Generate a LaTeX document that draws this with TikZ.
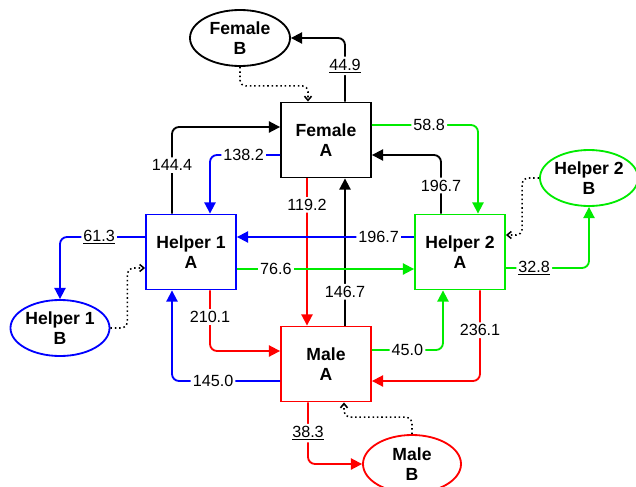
\documentclass[tikz,border=0pt]{standalone}
\usepackage{fontspec}
\setmainfont{Liberation Sans}
\usetikzlibrary{arrows.meta,calc,shapes.geometric}
\definecolor{hgreen}{RGB}{0,235,0}
\definecolor{hblue}{RGB}{0,0,255}
\definecolor{hred}{RGB}{255,0,0}
\tikzset{
  box/.style={draw, line width=1.3pt, minimum width=2.25cm, minimum height=1.875cm,
    align=center, font=\fontsize{12.5}{14.5}\selectfont\bfseries},
  oval/.style={draw, ellipse, line width=1.3pt, minimum width=2.5cm, minimum height=1.4cm,
    inner sep=0pt, align=center, font=\fontsize{12.5}{14.5}\selectfont\bfseries},
  flow/.style={line width=1.3pt, rounded corners=5pt, -{Triangle[length=8pt,width=8pt]}},
  back/.style={dotted, line width=1.1pt, rounded corners=4pt, -{Straight Barb[length=3pt,width=5pt]}},
  lab/.style={fill=white, inner sep=1.5pt, text=black, font=\fontsize{11.5}{13}\selectfont}
}
\begin{document}
\begin{tikzpicture}[x=0.025cm, y=-0.025cm]
  \useasboundingbox (0,0) rectangle (636,486);
  % A boxes
  \node[box] (FA) at (326,140) {Female\\A};
  \node[box, hblue] (H1) at (191,252) {\textcolor{black}{Helper 1}\\\textcolor{black}{A}};
  \node[box, hgreen] (H2) at (460,252) {\textcolor{black}{Helper 2}\\\textcolor{black}{A}};
  \node[box, hred] (MA) at (326,364) {\textcolor{black}{Male}\\\textcolor{black}{A}};
  % B ovals
  \node[oval] (FB) at (240,38) {Female\\B};
  \node[oval, hblue, minimum width=2.475cm] (H1B) at (60,328) {\textcolor{black}{Helper 1}\\\textcolor{black}{B}};
  \node[oval, hgreen, minimum width=2.4cm] (H2B) at (589,178) {\textcolor{black}{Helper 2}\\\textcolor{black}{B}};
  \node[oval, hred, minimum width=2.45cm, minimum height=1.45cm] (MB) at (412,464) {\textcolor{black}{Male}\\\textcolor{black}{B}};
  % to the B ovals
  \draw[flow, black] ($(FA.north)+(19,0)$) |- node[lab, pos=0.28] {\underline{44.9}} (FB.east);
  \draw[flow, hblue] ($(H1.west)+(0,-15)$) -| node[lab, pos=0.27] {\underline{61.3}} (H1B.north);
  \draw[flow, hgreen] ($(H2.east)+(0,16)$) -| node[lab, pos=0.17] {\underline{32.8}} (H2B.south);
  \draw[flow, hred] ($(MA.south)+(-18,0)$) |- node[lab, pos=0.25] {\underline{38.3}} (MB.west);
  % back from the B ovals (dotted)
  \draw[back] (FB.south) -- ++(0,19) -| ($(FA.north)+(-18,0)$);
  \draw[back] (H1B.east) -- ++(17,0) |- ($(H1.west)+(0,16)$);
  \draw[back] (H2B.west) -- ++(-17,0) |- ($(H2.east)+(0,-17)$);
  \draw[back] (MB.north) -- ++(0,-17) -| ($(MA.south)+(18,0)$);
  % Female A
  \draw[flow, black] ($(H1.north)+(-19,0)$) |- node[lab, pos=0.28] {144.4} ($(FA.west)+(0,-13)$);
  \draw[flow, hblue] ($(FA.west)+(0,15)$) -| node[lab, pos=0.26] {138.2} ($(H1.north)+(19,0)$);
  \draw[flow, hgreen] ($(FA.east)+(0,-15)$) -| node[lab, pos=0.27] {58.8} ($(H2.north)+(18,0)$);
  \draw[flow, black] ($(H2.north)+(-19,0)$) |- node[lab, pos=0.24] {196.7} ($(FA.east)+(0,15)$);
  \draw[flow, hred] ($(FA.south)+(-19,0)$) -- node[lab, pos=0.18] {119.2} ($(MA.north)+(-19,0)$);
  \draw[flow, black] ($(MA.north)+(19,0)$) -- node[lab, pos=0.23] {146.7} ($(FA.south)+(19,0)$);
  % helpers
  \draw[flow, hblue] ($(H2.west)+(0,-15)$) -- node[lab, pos=0.2] {196.7} ($(H1.east)+(0,-15)$);
  \draw[flow, hgreen] ($(H1.east)+(0,17)$) -- node[lab, pos=0.22] {76.6} ($(H2.west)+(0,17)$);
  % Male A
  \draw[flow, hred] ($(H1.south)+(19,0)$) |- node[lab, pos=0.22] {210.1} ($(MA.west)+(0,-13)$);
  \draw[flow, hblue] ($(MA.west)+(0,17)$) -| node[lab, pos=0.31] {145.0} ($(H1.south)+(-19,0)$);
  \draw[flow, hgreen] ($(MA.east)+(0,-14)$) -| node[lab, pos=0.25] {45.0} ($(H2.south)+(-17,0)$);
  \draw[flow, hred] ($(H2.south)+(20,0)$) |- node[lab, pos=0.22] {236.1} ($(MA.east)+(0,17)$);
\end{tikzpicture}
\end{document}
